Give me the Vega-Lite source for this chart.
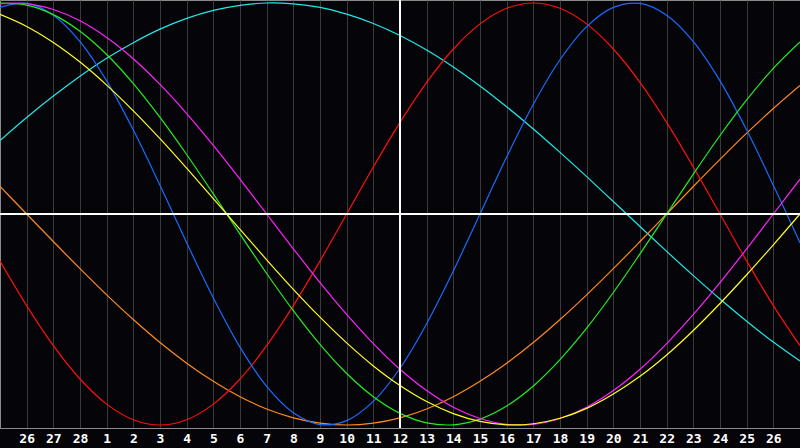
{
  "$schema": "https://vega.github.io/schema/vega-lite/v6.json",
  "width": 800,
  "height": 428,
  "autosize": {"type": "none"},
  "padding": {"left": 0, "top": 0, "right": 0, "bottom": 20},
  "background": "#050408",
  "config": {
    "view": {"stroke": "#8a8a8a", "strokeWidth": 1, "fill": "#050408"},
    "axis": {"labelFont": "DejaVu Sans Mono", "labelFontWeight": "bold", "labelFontSize": 13, "labelColor": "#ffffff"}
  },
  "data": {
    "values": [
      {"d": 0, "blue": 0.979, "red": -0.2225, "green": 0.999, "magenta": 0.997, "yellow": 0.946, "orange": 0.1305, "cyan": 0.348},
      {"d": 1, "blue": 0.998, "red": -0.434, "green": 0.990, "magenta": 0.997, "yellow": 0.889, "orange": 0, "cyan": 0.457},
      {"d": 2, "blue": 0.942, "red": -0.624, "green": 0.945, "magenta": 0.969, "yellow": 0.813, "orange": -0.1305, "cyan": 0.559},
      {"d": 3, "blue": 0.817, "red": -0.782, "green": 0.866, "magenta": 0.916, "yellow": 0.720, "orange": -0.259, "cyan": 0.653},
      {"d": 4, "blue": 0.631, "red": -0.901, "green": 0.756, "magenta": 0.837, "yellow": 0.611, "orange": -0.383, "cyan": 0.738},
      {"d": 5, "blue": 0.398, "red": -0.975, "green": 0.618, "magenta": 0.736, "yellow": 0.489, "orange": -0.5, "cyan": 0.812},
      {"d": 6, "blue": 0.136, "red": -1, "green": 0.458, "magenta": 0.614, "yellow": 0.357, "orange": -0.609, "cyan": 0.876},
      {"d": 7, "blue": -0.136, "red": -0.975, "green": 0.282, "magenta": 0.476, "yellow": 0.217, "orange": -0.707, "cyan": 0.927},
      {"d": 8, "blue": -0.398, "red": -0.901, "green": 0.095, "magenta": 0.325, "yellow": 0.073, "orange": -0.793, "cyan": 0.965},
      {"d": 9, "blue": -0.631, "red": -0.782, "green": -0.095, "magenta": 0.165, "yellow": -0.073, "orange": -0.866, "cyan": 0.989},
      {"d": 10, "blue": -0.817, "red": -0.624, "green": -0.282, "magenta": 0, "yellow": -0.217, "orange": -0.924, "cyan": 1.0},
      {"d": 11, "blue": -0.942, "red": -0.434, "green": -0.458, "magenta": -0.165, "yellow": -0.357, "orange": -0.966, "cyan": 0.996},
      {"d": 12, "blue": -0.998, "red": -0.2225, "green": -0.618, "magenta": -0.325, "yellow": -0.489, "orange": -0.991, "cyan": 0.979},
      {"d": 13, "blue": -0.979, "red": 0, "green": -0.756, "magenta": -0.476, "yellow": -0.611, "orange": -1, "cyan": 0.947},
      {"d": 14, "blue": -0.888, "red": 0.2225, "green": -0.866, "magenta": -0.614, "yellow": -0.720, "orange": -0.991, "cyan": 0.903},
      {"d": 15, "blue": -0.731, "red": 0.434, "green": -0.945, "magenta": -0.736, "yellow": -0.813, "orange": -0.966, "cyan": 0.846},
      {"d": 16, "blue": -0.520, "red": 0.624, "green": -0.990, "magenta": -0.837, "yellow": -0.889, "orange": -0.924, "cyan": 0.777},
      {"d": 17, "blue": -0.270, "red": 0.782, "green": -0.999, "magenta": -0.916, "yellow": -0.946, "orange": -0.866, "cyan": 0.697},
      {"d": 18, "blue": 0, "red": 0.901, "green": -0.972, "magenta": -0.969, "yellow": -0.983, "orange": -0.793, "cyan": 0.607},
      {"d": 19, "blue": 0.270, "red": 0.975, "green": -0.910, "magenta": -0.997, "yellow": -0.999, "orange": -0.707, "cyan": 0.508},
      {"d": 20, "blue": 0.520, "red": 1, "green": -0.815, "magenta": -0.997, "yellow": -0.994, "orange": -0.609, "cyan": 0.403},
      {"d": 21, "blue": 0.731, "red": 0.975, "green": -0.690, "magenta": -0.969, "yellow": -0.968, "orange": -0.5, "cyan": 0.292},
      {"d": 22, "blue": 0.888, "red": 0.901, "green": -0.541, "magenta": -0.916, "yellow": -0.921, "orange": -0.383, "cyan": 0.177},
      {"d": 23, "blue": 0.979, "red": 0.782, "green": -0.372, "magenta": -0.837, "yellow": -0.853, "orange": -0.259, "cyan": 0.059},
      {"d": 24, "blue": 0.998, "red": 0.624, "green": -0.189, "magenta": -0.736, "yellow": -0.769, "orange": -0.1305, "cyan": -0.059},
      {"d": 25, "blue": 0.942, "red": 0.434, "green": 0, "magenta": -0.614, "yellow": -0.668, "orange": 0, "cyan": -0.177},
      {"d": 26, "blue": 0.817, "red": 0.2225, "green": 0.189, "magenta": -0.476, "yellow": -0.552, "orange": 0.1305, "cyan": -0.292},
      {"d": 27, "blue": 0.631, "red": 0, "green": 0.372, "magenta": -0.325, "yellow": -0.424, "orange": 0.259, "cyan": -0.403},
      {"d": 28, "blue": 0.398, "red": -0.2225, "green": 0.541, "magenta": -0.165, "yellow": -0.288, "orange": 0.383, "cyan": -0.508},
      {"d": 29, "blue": 0.136, "red": -0.434, "green": 0.690, "magenta": 0, "yellow": -0.146, "orange": 0.5, "cyan": -0.607},
      {"d": 30, "blue": -0.136, "red": -0.624, "green": 0.815, "magenta": 0.165, "yellow": 0, "orange": 0.609, "cyan": -0.697}
    ]
  },
  "layer": [
    {
      "transform": [{"fold": ["cyan", "orange", "red", "blue", "green", "magenta", "yellow"], "as": ["series", "v"]}],
      "mark": {"type": "line", "interpolate": "catmull-rom", "strokeWidth": 1.2, "clip": true},
      "encoding": {
        "x": {
          "field": "d", "type": "quantitative",
          "scale": {"domain": [0, 30], "nice": false, "zero": false},
          "axis": {
            "values": [1,2,3,4,5,6,7,8,9,10,11,12,13,14,15,16,17,18,19,20,21,22,23,24,25,26,27,28,29],
            "tickCount": 60,
            "labelExpr": "datum.value <= 3 ? datum.value + 25 : datum.value - 3",
            "grid": true, "gridColor": "#3a3a3a", "gridWidth": 1,
            "ticks": false, "domain": true, "domainColor": "#8a8a8a",
            "labelPadding": 14, "labelBaseline": "alphabetic", "labelFlush": false, "labelOverlap": false, "labelBound": false,
            "title": null
          }
        },
        "y": {
          "field": "v", "type": "quantitative",
          "scale": {"domain": [-1.0142, 1.0142], "nice": false, "zero": false},
          "axis": null
        },
        "color": {
          "field": "series", "type": "nominal",
          "scale": {
            "domain": ["cyan", "orange", "red", "blue", "green", "magenta", "yellow"],
            "range": ["#22e8e8", "#ff8a1e", "#ff1010", "#1a6cff", "#22ee22", "#ff22ff", "#ffff22"]
          },
          "legend": null
        }
      }
    },
    {
      "mark": {"type": "rule", "color": "#ffffff", "strokeWidth": 2},
      "encoding": {"x": {"datum": 15, "type": "quantitative"}}
    },
    {
      "mark": {"type": "rule", "color": "#ffffff", "strokeWidth": 2},
      "encoding": {"y": {"datum": 0, "type": "quantitative"}}
    }
  ]
}
